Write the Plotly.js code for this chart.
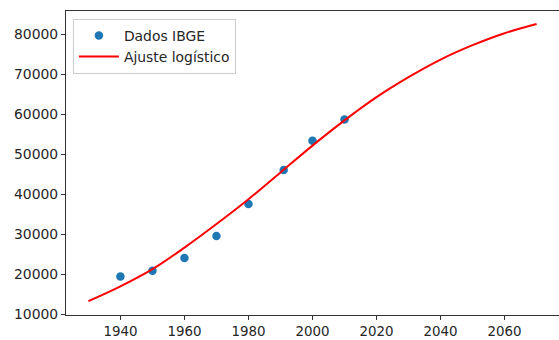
<!DOCTYPE html>
<html>
<head>
<meta charset="utf-8">
<script src="https://cdn.plot.ly/plotly-3.0.1.min.js"></script>
<style>html,body{margin:0;padding:0;background:#fff;}#chart{width:559px;height:340px;}</style>
</head>
<body>
<div id="chart"></div>
<script>
// IBGE census data
var anos = [1940, 1950, 1960, 1970, 1980, 1991, 2000, 2010];
var populacao = [19400, 20800, 24000, 29500, 37500, 46000, 53300, 58600];

// Logistic fit curve
var anosAjuste = [1930, 1940, 1950, 1960, 1970, 1980, 1990, 2000, 2010, 2020, 2030, 2040, 2050, 2060, 2070];
var popAjuste = [13200, 16900, 21200, 26600, 32500, 38700, 45400, 52100, 58400, 64200, 69200, 73600, 77200, 80200, 82500];

var xTicks = [1940, 1960, 1980, 2000, 2020, 2040, 2060];
var yTicks = [10000, 20000, 30000, 40000, 50000, 60000, 70000, 80000];

var font = {family: 'DejaVu Sans', size: 13.9, color: '#262626'};
var xFont = {family: 'DejaVu Sans', size: 13.4, color: '#262626'};

var traces = [
  {
    x: anos, y: populacao, mode: 'markers', type: 'scatter', name: 'Dados IBGE',
    marker: {color: '#1f77b4', size: 8.5}
  },
  {
    x: anosAjuste, y: popAjuste, mode: 'lines', type: 'scatter', name: 'Ajuste logístico',
    line: {color: '#ff0000', width: 2, shape: 'spline'}
  }
];

var axisCommon = {
  showgrid: false, zeroline: false, showline: true, mirror: true,
  linecolor: '#333333', linewidth: 1, ticks: 'outside', ticklen: 4,
  tickwidth: 1, tickcolor: '#333333', tickfont: font
};

var layout = {
  width: 559, height: 340,
  margin: {l: 66, r: 0, t: 11, b: 25},
  paper_bgcolor: '#ffffff', plot_bgcolor: '#ffffff',
  font: font,
  showlegend: true,
  legend: {
    x: 0.014, y: 0.974, xanchor: 'left', yanchor: 'top',
    bgcolor: 'rgba(255,255,255,0.8)', bordercolor: '#cccccc', borderwidth: 1,
    font: font, itemwidth: 40
  },
  xaxis: Object.assign({}, axisCommon, {
    range: [1923, 2077], tickmode: 'array', tickvals: xTicks,
    ticktext: xTicks.map(String), tickfont: xFont
  }),
  yaxis: Object.assign({}, axisCommon, {
    range: [9750, 85750], tickmode: 'array', tickvals: yTicks,
    ticktext: yTicks.map(String)
  })
};

Plotly.newPlot('chart', traces, layout, {staticPlot: true, displayModeBar: false});
</script>
</body>
</html>
